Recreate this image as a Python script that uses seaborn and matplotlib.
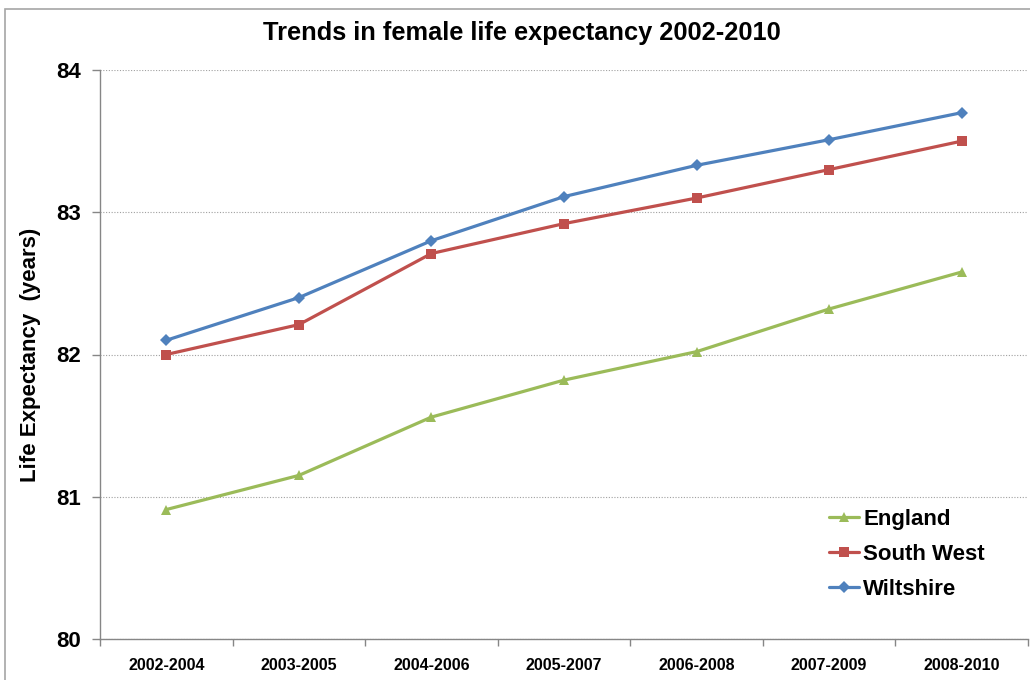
import matplotlib
matplotlib.use("Agg")
import matplotlib.pyplot as plt
from matplotlib.patches import Rectangle
from matplotlib.ticker import FixedLocator, MultipleLocator
import seaborn as sns
import pandas as pd

periods = ["2002-2004", "2003-2005", "2004-2006", "2005-2007",
           "2006-2008", "2007-2009", "2008-2010"]
england = [80.91, 81.15, 81.56, 81.82, 82.02, 82.32, 82.58]
south_west = [82.00, 82.21, 82.71, 82.92, 83.10, 83.30, 83.50]
wiltshire = [82.10, 82.40, 82.80, 83.11, 83.33, 83.51, 83.70]

areas = ["England", "South West", "Wiltshire"]
colors = {"England": "#9BBB59", "South West": "#C0504D", "Wiltshire": "#4F81BD"}
markers = {"England": "^", "South West": "s", "Wiltshire": "D"}

df = pd.DataFrame({
    "period": periods * 3,
    "x": list(range(len(periods))) * 3,
    "value": england + south_west + wiltshire,
    "area": sum([[a] * len(periods) for a in areas], []),
})

sns.set_theme(style="white")
plt.rcParams["font.family"] = ["Liberation Sans", "DejaVu Sans"]
plt.rcParams["font.weight"] = "bold"
plt.rcParams["text.color"] = "black"
plt.rcParams["axes.labelcolor"] = "black"
plt.rcParams["xtick.color"] = "black"
plt.rcParams["ytick.color"] = "black"

fig = plt.figure(figsize=(10.3, 6.8), dpi=100)
ax_left, ax_bottom, ax_w, ax_h = 100 / 1030, 1 - 639 / 680, 928 / 1030, 569 / 680
ax = fig.add_axes([ax_left, ax_bottom, ax_w, ax_h])

# outer chart border
fig.patches.append(Rectangle((4.5 / 1030, -0.1), 1.2, 1 - 9.5 / 680 + 0.1,
                             transform=fig.transFigure, fill=False,
                             edgecolor="#A6A6A6", linewidth=1.2, zorder=0))

sns.lineplot(data=df, x="x", y="value", hue="area", style="area",
             hue_order=areas, style_order=areas, palette=colors,
             markers=markers, dashes=False, linewidth=2.3, markersize=7.5,
             markeredgewidth=0, ax=ax)

for line in ax.lines:
    if line.get_marker() == "D":
        line.set_markersize(6)

ax.set_xlim(-0.5, len(periods) - 0.5)
ax.set_ylim(80, 84)
ax.yaxis.set_major_locator(MultipleLocator(1))
ax.set_yticklabels([f"{int(v)}" for v in ax.get_yticks()], fontsize=16, fontweight="bold")
ax.xaxis.set_major_locator(FixedLocator(list(range(len(periods)))))
ax.set_xticklabels(periods, fontsize=11.5, fontweight="bold")
ax.xaxis.set_minor_locator(FixedLocator([i - 0.5 for i in range(len(periods) + 1)]))
ax.tick_params(axis="x", which="major", length=0, pad=14, labelcolor="black")
ax.tick_params(axis="x", which="minor", length=5, width=1, color="#868686", direction="out", bottom=True)
ax.tick_params(axis="y", which="major", length=6, width=1, color="#868686", direction="out",
               left=True, pad=8, labelcolor="black")

ax.grid(axis="y", color="#A0A0A0", linestyle=(0, (1, 1.5)), linewidth=0.8)
ax.grid(axis="x", visible=False)
for side in ["top", "right"]:
    ax.spines[side].set_visible(False)
for side in ["left", "bottom"]:
    ax.spines[side].set_color("#868686")
    ax.spines[side].set_linewidth(1)

ax.set_xlabel("")
ax.set_ylabel("Life Expectancy  (years)", fontsize=16, fontweight="bold", color="black")
ax.yaxis.set_label_coords((31 - 100) / 928, 0.5)
ax.yaxis.label.set_va("center")

fig.text(522 / 1030, 1 - 33 / 680, "Trends in female life expectancy 2002-2010",
         ha="center", va="center", fontsize=18.3, fontweight="bold", color="black")

leg = ax.legend(loc="upper left", bbox_to_anchor=(829 / 1030, 1 - 509 / 680),
                bbox_transform=fig.transFigure, frameon=False, fontsize=16,
                handlelength=1.35, handletextpad=0.2, labelspacing=0.62,
                borderaxespad=0, borderpad=0)
for t in leg.get_texts():
    t.set_fontweight("bold")
    t.set_color("black")

fig.savefig("out.png", dpi=100, facecolor="white")
